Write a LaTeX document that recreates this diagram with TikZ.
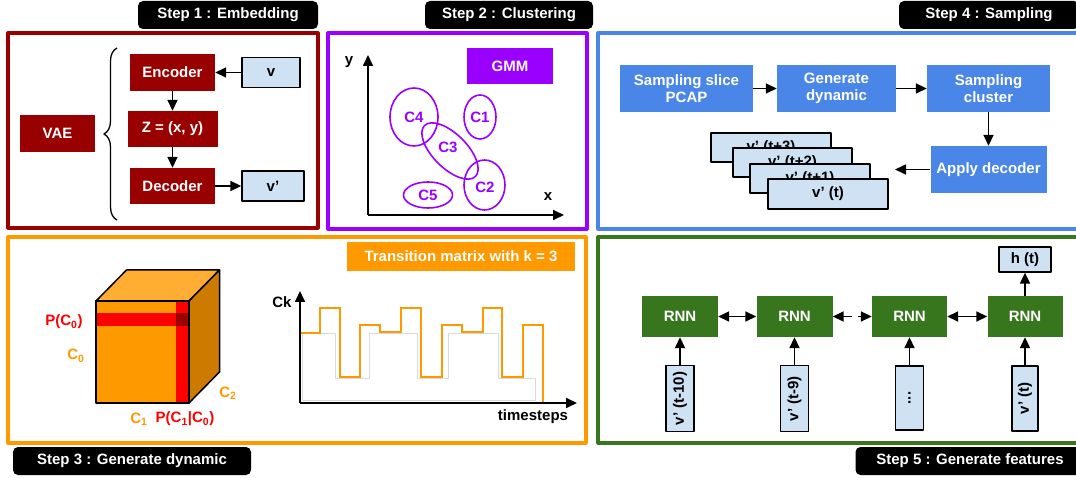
\documentclass[tikz,border=0pt]{standalone}
\usepackage{fontspec}
\setmainfont{Liberation Sans}
\usepackage{tikz}
\usetikzlibrary{arrows.meta,shapes,calc,decorations.pathreplacing}

\definecolor{vaered}{HTML}{990000}
\definecolor{gmmpurple}{HTML}{9900FF}
\definecolor{smpblue}{HTML}{4A86E8}
\definecolor{dynorange}{HTML}{FF9900}
\definecolor{rnngreen}{HTML}{38761D}
\definecolor{vecblue}{HTML}{CFE2F3}

\begin{document}
\begin{tikzpicture}[join=round, x=1pt, y=-1pt, >={Triangle[length=11pt,width=10pt]}]
		\tikzstyle{txt}=[font=\bfseries\fontsize{15}{17}\selectfont]
		\tikzstyle{blk}=[txt, inner sep=0pt, text=white, align=center]
		\tikzstyle{vec}=[txt, draw=black, line width=1.3pt, fill=vecblue, inner sep=0pt]
		\tikzstyle{ttl}=[txt, fill=black, rounded corners=5pt, text=white, inner sep=0pt, minimum height=28pt]
		\tikzstyle{pnl}=[line width=3.2pt]
		\tikzstyle{arr}=[line width=1.7pt]
		\tikzstyle{clu}=[draw=gmmpurple, line width=1.6pt, ellipse, inner sep=0pt, txt, text=gmmpurple]
		
		\useasboundingbox (0,0) rectangle (1076,478);
		\clip (0,0) rectangle (1076,478);
		
		% panels
		\draw[pnl, vaered] (8,33) rectangle (318,228);
		\draw[pnl, gmmpurple] (328,33) rectangle (587,229);
		\draw[pnl, smpblue] (598,33) rectangle (1084,229);
		\draw[pnl, dynorange] (8,237) rectangle (586,443);
		\draw[pnl, rnngreen] (598,237) rectangle (1084,443);
		
		\node[ttl, minimum width=180pt] (t1) at (228,15) {Step 1 : Embedding};
		\node[ttl, minimum width=168pt] (t2) at (509,15) {Step 2 : Clustering};
		\node[ttl, minimum width=238pt] (t3) at (132,461) {Step 3 : Generate dynamic};
		\node[ttl, minimum width=180pt] (t4) at (989,15) {Step 4 : Sampling};
		\node[ttl, minimum width=229pt] (t5) at (970,461) {Step 5 : Generate features};
		
		% step 1
		\node[blk, fill=vaered, minimum width=75pt, minimum height=37pt] (vae) at (57.5,133.5) {VAE};
		\node[blk, fill=vaered, minimum width=85pt, minimum height=37pt] (enc) at (172.5,72.5) {Encoder};
		\node[blk, fill=vaered, minimum width=90pt, minimum height=36pt] (zz) at (172.5,129) {Z = (x, y)};
		\node[blk, fill=vaered, minimum width=85pt, minimum height=36pt] (dec) at (172.5,186) {Decoder};
		\node[vec, minimum width=58pt, minimum height=30pt] (v) at (271,72.5) {v};
		\node[vec, minimum width=62pt, minimum height=30pt] (vp) at (273,186) {v'};
		\coordinate (brb) at (117,220);
		\coordinate (brt) at (117,48);
		\draw[decorate, decoration={brace, amplitude=13pt}, line width=1.3pt] (brb) -- (brt);
		\draw[arr, ->] (v) -- (enc);
		\draw[arr, ->] (enc) -- (zz);
		\draw[arr, ->] (zz) -- (dec);
		\draw[arr, ->] (dec) -- (vp);
		
		% step 2
		\node[blk, fill=gmmpurple, minimum width=86pt, minimum height=36pt] (gmm) at (510,66) {GMM};
		\coordinate (o2) at (368,215);
		\coordinate (y2) at (368,55);
		\coordinate (x2) at (564,215);
		\draw[arr, ->] (o2) -- (y2);
		\draw[arr, ->] (o2) -- (x2);
		\node[txt] (ylab) at (349,62) {y};
		\node[txt] (xlab) at (548,197) {x};
		\node[clu, minimum width=48pt, minimum height=58pt] (c4) at (414,117) {};
		\node[clu, minimum width=32pt, minimum height=44pt] (c1) at (480,117) {C1};
		\node[clu, minimum width=72pt, minimum height=34pt, rotate=-45] (c3) at (450,151) {};
		\node[clu, minimum width=41pt, minimum height=50pt] (c2) at (484.5,185) {};
		\node[clu, minimum width=49pt, minimum height=26pt] (c5) at (428,195) {C5};
		\node[txt, text=gmmpurple] (c4t) at (414,117) {C4};
		\node[txt, text=gmmpurple] (c3t) at (448,147) {C3};
		\node[txt, text=gmmpurple] (c2t) at (485,187) {C2};
		
		% step 4
		\node[blk, fill=smpblue, minimum width=133pt, minimum height=47pt] (slice) at (686.5,88.5) {Sampling slice\\PCAP};
		\node[blk, fill=smpblue, minimum width=119pt, minimum height=47pt] (gen) at (836.5,88.5) {Generate\\dynamic};
		\node[blk, fill=smpblue, minimum width=123pt, minimum height=47pt] (clus) at (988.5,88.5) {Sampling\\cluster};
		\node[blk, fill=smpblue, minimum width=116pt, minimum height=47pt] (apply) at (988.5,169.5) {Apply decoder};
		\node[vec, minimum width=120pt, minimum height=29pt] (s3) at (771,147.5) {v' (t+3)};
		\node[vec, minimum width=119pt, minimum height=29pt] (s2) at (792.5,162.5) {v' (t+2)};
		\node[vec, minimum width=120pt, minimum height=29pt] (s1) at (810,178.5) {v' (t+1)};
		\node[vec, minimum width=120pt, minimum height=30pt] (s0) at (828,194) {v' (t)};
		\coordinate (stk) at (895,169.5);
		\draw[arr, ->] (slice) -- (gen);
		\draw[arr, ->] (gen) -- (clus);
		\draw[arr, ->] (clus) -- (apply);
		\draw[arr, ->] (apply) -- (stk);
		
		% step 3
		\node[blk, fill=dynorange, minimum width=228pt, minimum height=29pt] (trans) at (461,256.5) {Transition matrix with k = 3};
		\filldraw[fill=dynorange, draw=none] (96,301) rectangle (189,403);
		\fill[red] (96,313) rectangle (189,326);
		\fill[red] (176,301) rectangle (189,403);
		\fill[vaered] (176,313) rectangle (189,326);
		\filldraw[fill=dynorange!80!white, line width=1.5pt] (96,301) -- (126.5,270) -- (219.5,270) -- (189,301) -- cycle;
		\filldraw[fill=dynorange!80!black, line width=1.5pt] (189,301) -- (219.5,270) -- (219.5,372) -- (189,403) -- cycle;
		\draw[line width=1.5pt] (96,301) rectangle (189,403);
		\node[txt, text=red] (pc0) at (64,322) {P(C\textsubscript{0})};
		\node[txt, text=dynorange] (c0) at (76,356) {C\textsubscript{0}};
		\node[txt, text=dynorange] (cc2) at (228,393) {C\textsubscript{2}};
		\node[txt, text=dynorange] (cc1) at (139,419) {C\textsubscript{1}};
		\node[txt, text=red] (pc1) at (185,419) {P(C\textsubscript{1}|C\textsubscript{0})};
		
		\coordinate (o3) at (300,403);
		\coordinate (y3) at (300,291);
		\coordinate (x3) at (577,403);
		\draw[gray!30, line width=0.8pt] (302,333) -- (335,333) -- (335,378) -- (369,378) -- (369,333) -- (417,333) -- (417,378) -- (448,378) -- (448,333) -- (498,333) -- (498,378) -- (535,378) -- (535,400) -- (302,400) -- cycle;
		\draw[dynorange, line width=2.5pt, join=miter] (300,333) -- (320,333) -- (320,308) -- (340,308) -- (340,377) -- (360,377) -- (360,325) -- (380,325) -- (380,332) -- (401,332) -- (401,308) -- (421,308) -- (421,377) -- (442,377) -- (442,325) -- (462,325) -- (462,332) -- (483,332) -- (483,308) -- (502,308) -- (502,377) -- (523,377) -- (523,325) -- (543,325) -- (543,403);
		\draw[arr, ->] (o3) -- (y3);
		\draw[arr, ->] (o3) -- (x3);
		\node[txt] (cklab) at (282,302) {Ck};
		\node[txt] (tslab) at (533,417) {timesteps};
		
		% step 5
		\node[blk, fill=rnngreen, minimum width=76pt, minimum height=41pt] (rnn1) at (680,316.5) {RNN};
		\node[blk, fill=rnngreen, minimum width=76pt, minimum height=41pt] (rnn2) at (794.5,316.5) {RNN};
		\node[blk, fill=rnngreen, minimum width=75pt, minimum height=41pt] (rnn3) at (909.5,316.5) {RNN};
		\node[blk, fill=rnngreen, minimum width=75pt, minimum height=41pt] (rnn4) at (1025,316.5) {RNN};
		\node[vec, minimum width=52pt, minimum height=25pt] (ht) at (1025,259.5) {h (t)};
		\node[vec, rotate=90, minimum width=66pt, minimum height=28pt] (in1) at (680,398.5) {v' (t-10)};
		\node[vec, rotate=90, minimum width=66pt, minimum height=28pt] (in2) at (794.5,398.5) {v' (t-9)};
		\node[vec, rotate=90, minimum width=64pt, minimum height=28pt] (in3) at (909.5,398) {...};
		\node[vec, rotate=90, minimum width=65pt, minimum height=26pt] (in4) at (1025,398.5) {v' (t)};
		\draw[arr, <->] (rnn1) -- (rnn2);
		\draw[arr, <->, dash pattern=on 9pt off 6pt] (rnn2) -- (rnn3);
		\draw[arr, <->] (rnn3) -- (rnn4);
		\draw[arr, ->] (rnn4) -- (ht);
		\draw[arr, ->] (in1) -- (rnn1);
		\draw[arr, ->] (in2) -- (rnn2);
		\draw[arr, ->] (in3) -- (rnn3);
		\draw[arr, ->] (in4) -- (rnn4);
	\end{tikzpicture}
\end{document}
